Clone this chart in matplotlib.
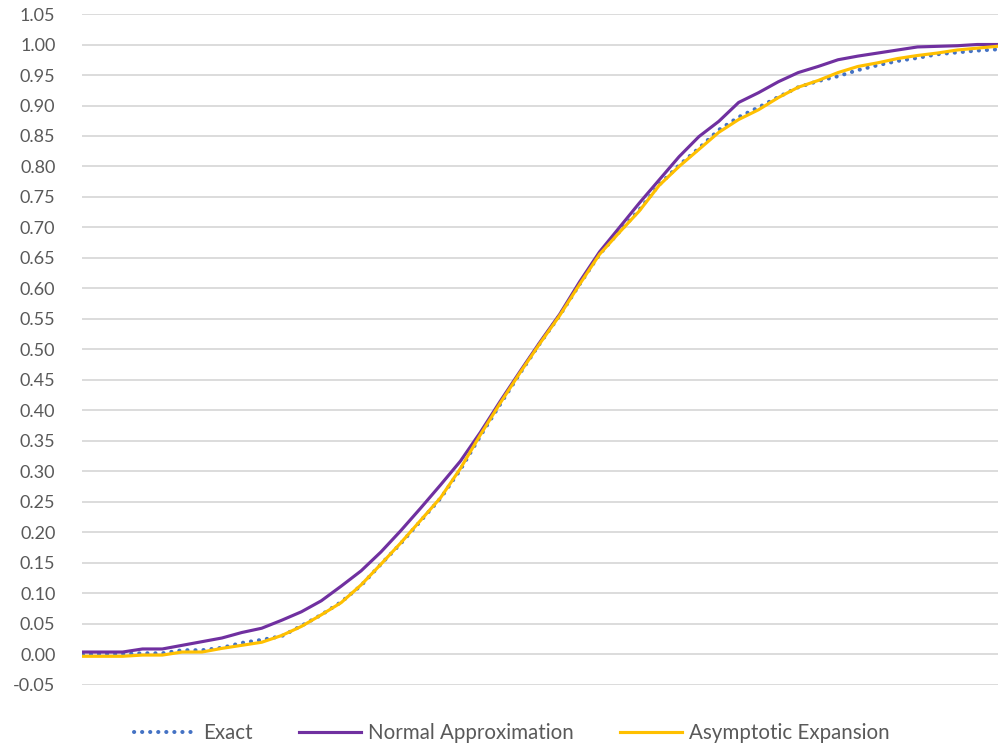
import matplotlib
matplotlib.use("Agg")
import matplotlib.pyplot as plt
import numpy as np

plt.rcParams['font.family'] = ['Lato', 'DejaVu Sans']

# Values (47 points along the horizontal axis)
exact = [0.000, 0.001, 0.001, 0.002, 0.002, 0.007, 0.007, 0.011, 0.019, 0.024,
         0.030, 0.047, 0.065, 0.086, 0.113, 0.148, 0.182, 0.219, 0.256, 0.303,
         0.358, 0.410, 0.461, 0.510, 0.556, 0.607, 0.656, 0.693, 0.729, 0.770,
         0.802, 0.830, 0.860, 0.881, 0.897, 0.914, 0.930, 0.940, 0.948, 0.958,
         0.966, 0.973, 0.978, 0.984, 0.987, 0.990, 0.992]
normal = [0.004, 0.004, 0.004, 0.009, 0.009, 0.015, 0.021, 0.027, 0.036, 0.043,
          0.056, 0.070, 0.088, 0.112, 0.137, 0.168, 0.203, 0.240, 0.278, 0.317,
          0.364, 0.415, 0.464, 0.512, 0.558, 0.611, 0.660, 0.700, 0.740, 0.778,
          0.816, 0.849, 0.874, 0.905, 0.921, 0.939, 0.954, 0.964, 0.975, 0.981,
          0.986, 0.991, 0.996, 0.997, 0.998, 1.000, 1.000]
asymptotic = [-0.003, -0.003, -0.003, -0.001, -0.001, 0.004, 0.004, 0.010, 0.015, 0.020,
              0.031, 0.046, 0.065, 0.085, 0.114, 0.148, 0.183, 0.220, 0.257, 0.305,
              0.360, 0.412, 0.462, 0.510, 0.556, 0.607, 0.656, 0.692, 0.727, 0.769,
              0.800, 0.828, 0.856, 0.877, 0.893, 0.913, 0.930, 0.941, 0.954, 0.964,
              0.970, 0.977, 0.982, 0.986, 0.991, 0.994, 0.997]
series_names = ["Exact", "Normal Approximation", "Asymptotic Expansion"]
y_ticks = [round(-0.05 + 0.05 * k, 2) for k in range(23)]

x = np.arange(len(exact))

fig = plt.figure(figsize=(9.98, 7.49), dpi=100)
ax = fig.add_axes([0.082, 0.0855, 0.918, 0.8958])

ax.plot(x, exact, color='#4472C4', lw=2.9, linestyle=(0, (0.05, 1.95)),
        dash_capstyle='round', label=series_names[0], zorder=3)
ax.plot(x, normal, color='#7030A0', lw=2.25, label=series_names[1], zorder=4,
        solid_joinstyle='round')
ax.plot(x, asymptotic, color='#FFC000', lw=2.25, label=series_names[2], zorder=5,
        solid_joinstyle='round')

ax.set_ylim(-0.05, 1.05)
ax.set_xlim(-0.05, len(exact) - 1 + 0.05)
ax.set_yticks(y_ticks)
ax.set_yticklabels([f"{t:.2f}" for t in y_ticks])
ax.tick_params(axis='y', length=0, labelsize=13, labelcolor='#595959', pad=19)
ax.set_xticks([])
ax.grid(axis='y', color='#D9D9D9', lw=1.3)
ax.set_axisbelow(True)
for s in ax.spines.values():
    s.set_visible(False)

leg = fig.legend(loc='center', bbox_to_anchor=(0.513, 0.021), ncol=3, frameon=False,
                 fontsize=14.8, handlelength=3.0, handletextpad=0.35, columnspacing=2.25,
                 labelcolor='#595959')

fig.savefig("out.png", dpi=100)
